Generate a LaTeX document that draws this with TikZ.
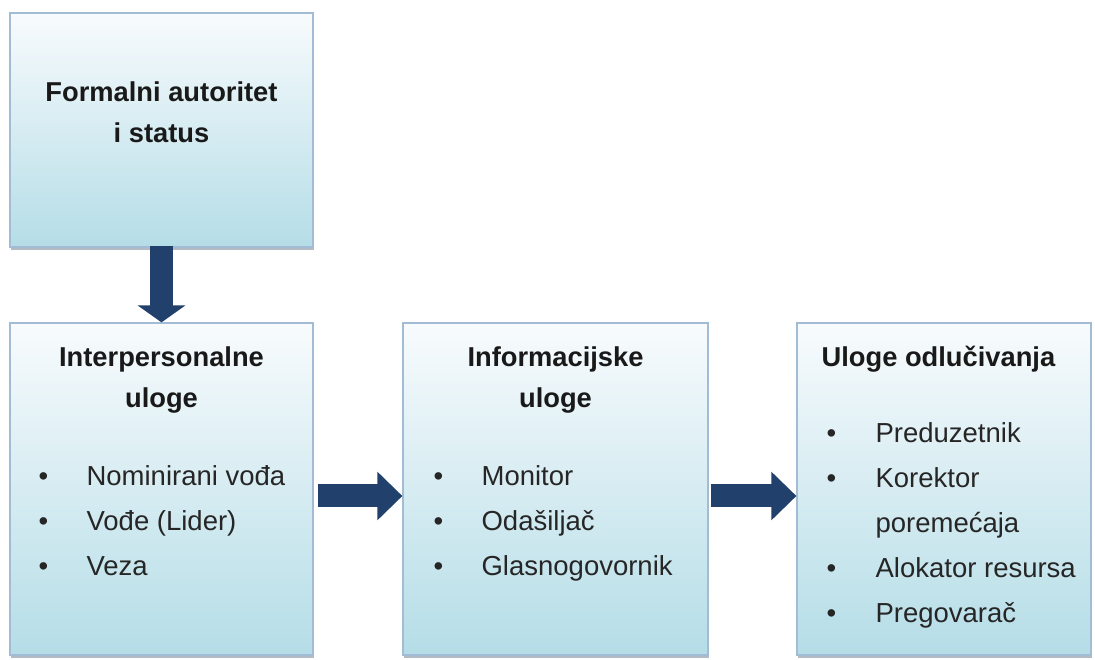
\documentclass[tikz,border=0pt]{standalone}
\usepackage{fontspec}
\setmainfont{Liberation Sans}
\usetikzlibrary{arrows.meta,positioning,shadows}

\definecolor{boxline}{HTML}{A3BCD6}
\definecolor{boxtop}{HTML}{F8FBFD}
\definecolor{boxbot}{HTML}{B5DDE7}
\definecolor{arrowblue}{HTML}{21406C}

\tikzset{
  rolebox/.style={draw=boxline, line width=1.2pt, top color=boxtop, bottom color=boxbot,
    inner sep=0pt, drop shadow={shadow xshift=0.5pt, shadow yshift=-3pt, fill=boxline!70!black, opacity=.55}},
  bigarrow/.style={draw=arrowblue, line width=23pt, -{Triangle[length=#1, width=47pt]}},
  title/.style={font=\bfseries\fontsize{27.3}{41}\selectfont, align=center, inner sep=0pt, text=black!90},
  items/.style={font=\fontsize{27.5}{45}\selectfont, inner sep=0pt, anchor=base west, text=black!85}
}

\begin{document}
\begin{tikzpicture}[x=1pt, y=1pt]
    \useasboundingbox (0,0) rectangle (1095,659);

    \node[rolebox, minimum width=303pt, minimum height=234pt] (auth) at (161.5,529) {};
    \node[rolebox, minimum width=303pt, minimum height=332pt] (inter) at (161.5,170) {};
    \node[rolebox, minimum width=305pt, minimum height=332pt] (info) at (555.5,170) {};
    \node[rolebox, minimum width=294pt, minimum height=332pt] (odl) at (944,170) {};

    \node[title, anchor=base] (authT) at ([yshift=-130pt]auth.north) {Formalni autoritet\\i status};
    \node[title, anchor=base] (interT) at ([yshift=-85pt]inter.north) {Interpersonalne\\uloge};
    \node[title, anchor=base] (infoT) at ([yshift=-85pt]info.north) {Informacijske\\uloge};
    \node[title, anchor=base west] (odlT) at ([shift={(25pt,-44pt)}]odl.north west) {Uloge odlučivanja};

    \node[items] (interL) at ([shift={(29pt,-163pt)}]inter.north west) {%
      \begin{tabular}[t]{@{}p{48pt}@{}l@{}}
        \textbullet & Nominirani vođa\\
        \textbullet & Vođe (Lider)\\
        \textbullet & Veza
      \end{tabular}};
    \node[items] (infoL) at ([shift={(31pt,-163pt)}]info.north west) {%
      \begin{tabular}[t]{@{}p{48pt}@{}l@{}}
        \textbullet & Monitor\\
        \textbullet & Odašiljač\\
        \textbullet & Glasnogovornik
      \end{tabular}};
    \node[items] (odlL) at ([shift={(30pt,-120pt)}]odl.north west) {%
      \begin{tabular}[t]{@{}p{49pt}@{}l@{}}
        \textbullet & Preduzetnik\\
        \textbullet & Korektor\\
                    & poremećaja\\
        \textbullet & Alokator resursa\\
        \textbullet & Pregovarač
      \end{tabular}};

    \draw[bigarrow=17pt] ([yshift=2pt]auth.south) -- (inter.north);
    \draw[bigarrow=25pt] ([shift={(4pt,-7pt)}]inter.east) -- ([yshift=-7pt]info.west);
    \draw[bigarrow=25pt] ([shift={(2pt,-7pt)}]info.east) -- ([yshift=-7pt]odl.west);
\end{tikzpicture}
\end{document}
